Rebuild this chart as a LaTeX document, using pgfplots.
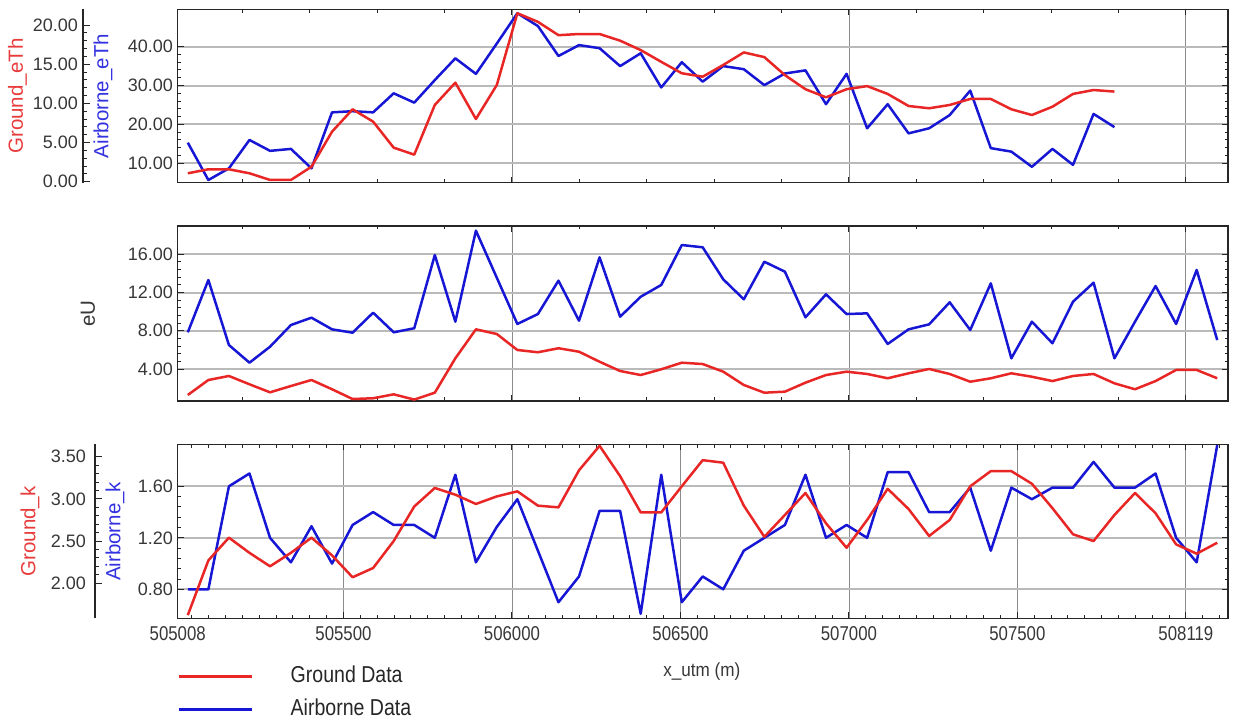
\documentclass[border=0pt]{standalone}
\usepackage{pgfplots}
\pgfplotsset{compat=1.18}
\usepackage{pgfplotstable}
\usepackage{fontspec}
\setmainfont{Liberation Sans}
\definecolor{gred}{RGB}{232,38,38}
\definecolor{ablue}{RGB}{22,22,212}
\definecolor{glabel}{RGB}{232,60,60}
\definecolor{alabel}{RGB}{50,50,225}
\definecolor{tcol}{RGB}{55,55,55}

\pgfplotstableread{
x g a
505038 1.07 15.3
505099 1.58 5.7
505160 1.58 8.7
505221 1.07 16.0
505282 0.22 13.2
505344 0.22 13.7
505405 1.91 8.7
505466 6.38 23.1
505527 9.24 23.4
505588 7.66 23.1
505649 4.34 28.0
505710 3.45 25.6
505771 9.79 31.4
505832 12.64 37.0
505893 8.00 33.0
505955 12.34 40.8
506016 21.5 48.6
506077 20.4 45.3
506138 18.7 37.6
506199 18.85 40.4
506260 18.85 39.6
506321 18.0 35.0
506382 16.8 38.3
506443 15.3 29.5
506504 13.84 36.0
506566 13.4 31.0
506627 14.9 35.0
506688 16.5 34.2
506749 15.9 30.1
506810 13.6 33.1
506871 11.8 33.9
506932 10.77 25.2
506993 11.8 33.0
507054 12.2 19.0
507115 11.2 25.2
507177 9.66 17.7
507238 9.37 19.0
507299 9.79 22.4
507360 10.56 28.7
507421 10.56 13.9
507482 9.24 13.0
507543 8.51 9.1
507604 9.57 13.7
507665 11.2 9.6
507726 11.7 22.7
507788 11.5 19.3
}\tabTh

\pgfplotstableread{
x ug ua kg ka
505038 1.28 7.84 1.62 0.80
505099 2.85 13.31 2.27 0.80
505160 3.27 6.51 2.54 1.60
505221 2.40 4.66 2.36 1.70
505282 1.56 6.33 2.20 1.20
505344 2.22 8.60 2.36 1.01
505405 2.85 9.37 2.54 1.29
505466 1.88 8.15 2.33 1.00
505527 0.86 7.80 2.07 1.30
505588 0.94 9.89 2.18 1.40
505649 1.35 7.84 2.50 1.30
505710 0.80 8.26 2.91 1.30
505771 1.52 15.92 3.13 1.20
505832 5.12 8.95 3.05 1.69
505893 8.15 18.47 2.94 1.01
505955 7.66 13.55 3.03 1.285
506016 5.99 8.71 3.09 1.50
506077 5.75 9.75 2.92 1.10
506138 6.17 13.24 2.90 0.70
506199 5.81 9.05 3.34 0.90
506260 4.76 15.68 3.63 1.41
506321 3.79 9.47 3.27 1.41
506382 3.37 11.56 2.84 0.61
506443 3.97 12.79 2.84 1.69
506504 4.66 16.97 3.15 0.70
506566 4.52 16.73 3.46 0.90
506627 3.72 13.38 3.43 0.80
506688 2.33 11.29 2.92 1.10
506749 1.52 15.22 2.55 1.20
506810 1.63 14.18 2.81 1.30
506871 2.57 9.41 3.07 1.69
506932 3.37 11.81 2.71 1.20
506993 3.72 9.75 2.42 1.30
507054 3.48 9.82 2.75 1.20
507115 3.03 6.62 3.12 1.71
507177 3.55 8.15 2.88 1.71
507238 4.00 8.67 2.56 1.40
507299 3.48 10.98 2.75 1.40
507360 2.67 8.08 3.15 1.59
507421 3.03 12.96 3.33 1.10
507482 3.55 5.12 3.33 1.59
507543 3.19 8.95 3.18 1.50
507604 2.74 6.69 2.89 1.59
507665 3.27 11.04 2.58 1.59
507726 3.48 13.03 2.50 1.79
507788 2.50 5.12 2.81 1.59
507849 1.88 8.95 3.07 1.59
507910 2.74 12.68 2.83 1.70
507971 3.90 8.71 2.46 1.20
508032 3.90 14.36 2.35 1.01
508093 3.03 7.03 2.48 1.92
}\tabUK

\pgfplotsset{
  panel/.style={
    scale only axis, width=1050.3pt,
    xmin=505008, xmax=508125,
    scaled x ticks=false, scaled y ticks=false,
    axis line style={black!85, line width=1.5pt},
    tick align=inside,
    major tick length=6pt, minor tick length=3.5pt,
    every tick/.style={black!85, line width=1pt},
    tick label style={font=\fontsize{18}{20}\selectfont, text=tcol},
    yticklabel style={inner sep=0pt, xshift=-4.7pt},
    ymajorgrids, xmajorgrids,
    every axis y grid/.style={black!27, line width=2pt},
    every axis x grid/.style={black!45, line width=0.8pt},
  },
  gaxis/.style={
    scale only axis, width=1pt, xmin=0, xmax=1,
    scaled y ticks=false,
    axis x line=none, axis y line=left,
    axis line style={-, black!85, line width=1.5pt},
    tick align=inside,
    major tick length=7pt, minor tick length=4pt,
    every tick/.style={black!85, line width=1pt},
    tick label style={font=\fontsize{18}{20}\selectfont, text=tcol},
    yticklabel style={inner sep=0pt, xshift=-5pt},
  },
  ylab/.style 2 args={every axis y label/.style={at={(axis description cs:#1,0.5)}, rotate=90, anchor=center, text=#2, font=\fontsize{20.5}{22}\selectfont}},
  hid/.style={scale only axis, width=1050.3pt, xmin=505008, xmax=508125, hide axis},
  dline/.style={line width=2.5pt, line join=round},
}

\begin{document}
\begin{tikzpicture}
\useasboundingbox (0pt,0pt) rectangle (1234pt,720pt);

% ---------- top panel ----------
\begin{axis}[panel, height=173.2pt, at={(177.7pt,537.3pt)}, anchor=south west,
  ymin=5.01, ymax=49.56, ytick={10,20,30,40}, yticklabels={10.00,20.00,30.00,40.00},
  minor y tick num=4,
  xtick={506000,507000,508000}, xticklabels={},
  minor xtick={505200,505400,505600,505800,506200,506400,506600,506800,507200,507400,507600,507800},
  ylabel={Airborne\_eTh}, ylab={-0.0711}{alabel}]
\addplot[ablue, dline] table[x=x,y=a]{\tabTh};
\end{axis}
\begin{axis}[hid, height=173.2pt, at={(177.7pt,537.3pt)}, anchor=south west, ymin=-0.13, ymax=21.98]
\addplot[gred, dline] table[x=x,y=g]{\tabTh};
\end{axis}
\begin{axis}[gaxis, height=173.2pt, at={(83pt,537.3pt)}, anchor=south west,
  ymin=-0.13, ymax=21.98, ytick={0,5,10,15,20}, yticklabels={0.00,5.00,10.00,15.00,20.00},
  minor y tick num=4, ylabel={Ground\_eTh}, ylab={-65.5}{glabel}]
\end{axis}

% ---------- middle panel ----------
\begin{axis}[panel, height=175pt, at={(177.7pt,319pt)}, anchor=south west,
  ymin=0.653, ymax=18.96, ytick={4,8,12,16}, yticklabels={4.00,8.00,12.00,16.00},
  minor y tick num=4,
  xtick={506000,507000,508000}, xticklabels={},
  minor xtick={505200,505400,505600,505800,506200,506400,506600,506800,507200,507400,507600,507800},
  ylabel={eU}, ylab={-0.0854}{tcol}]
\addplot[ablue, dline] table[x=x,y=ua]{\tabUK};
\addplot[gred, dline] table[x=x,y=ug]{\tabUK};
\end{axis}

% ---------- bottom panel ----------
\begin{axis}[panel, height=173.8pt, at={(177.7pt,101.7pt)}, anchor=south west,
  ymin=0.575, ymax=1.925, ytick={0.8,1.2,1.6}, yticklabels={0.80,1.20,1.60},
  minor y tick num=4,
  xtick={505008,505500,506000,506500,507000,507500,508000},
  xticklabels={505008,505500,506000,506500,507000,507500,508119},
  minor xtick={505050,505100,505150,505200,505250,505300,505350,505400,505450,
    505550,505600,505650,505700,505750,505800,505850,505900,505950,
    506050,506100,506150,506200,506250,506300,506350,506400,506450,
    506550,506600,506650,506700,506750,506800,506850,506900,506950,
    507050,507100,507150,507200,507250,507300,507350,507400,507450,
    507550,507600,507650,507700,507750,507800,507850,507900,507950,
    508050,508100},
  xticklabel style={font=\fontsize{20}{22}\selectfont, xscale=0.84, inner sep=0pt, yshift=-7.7pt},
  xlabel={x\_utm (m)},
  every axis x label/.style={at={(axis description cs:0.499,-0.307)}, anchor=center, xscale=0.9, text=tcol, font=\fontsize{19}{21}\selectfont},
  ylabel={Airborne\_k}, ylab={-0.0597}{alabel},
  legend cell align=left,
  legend image code/.code={\draw[#1, line width=3pt] (0pt,0pt) -- (72.6pt,0pt);},
  legend style={at={(axis description cs:0,-0.280)}, anchor=north west, draw=none, fill=none,
    inner sep=0pt, outer sep=0pt, row sep=13pt, font=\fontsize{23}{25}\selectfont,
    nodes={inner sep=0pt, text height=16pt, text depth=4pt, xscale=0.85, text=black!85},
    /tikz/every odd column/.append style={column sep=37.4pt}}]
\addlegendimage{gred}
\addlegendentry{Ground Data}
\addplot[ablue, dline] table[x=x,y=ka]{\tabUK};
\addlegendentry{Airborne Data}
\end{axis}
\begin{axis}[hid, height=173.8pt, at={(177.7pt,101.7pt)}, anchor=south west, ymin=1.583, ymax=3.646]
\addplot[gred, dline] table[x=x,y=kg]{\tabUK};
\end{axis}
\begin{axis}[gaxis, height=173.8pt, at={(95pt,101.7pt)}, anchor=south west,
  ymin=1.583, ymax=3.646, ytick={2,2.5,3,3.5}, yticklabels={2.00,2.50,3.00,3.50},
  minor y tick num=4, yticklabel style={xshift=-4pt}, ylabel={Ground\_k}, ylab={-65}{glabel}]
\end{axis}
\end{tikzpicture}
\end{document}
